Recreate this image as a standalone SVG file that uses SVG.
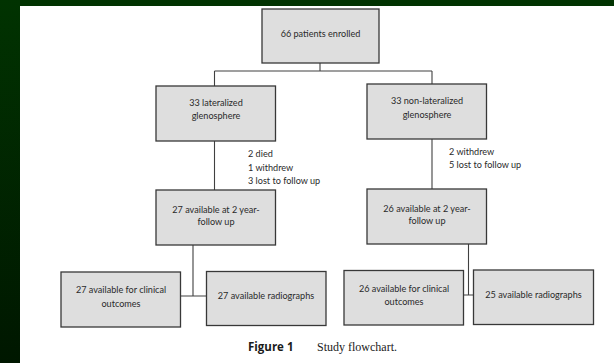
<svg xmlns="http://www.w3.org/2000/svg" width="614" height="363" viewBox="0 0 614 363">
  <defs>
    <linearGradient id="edge" x1="0" y1="0" x2="0" y2="1">
      <stop offset="0" stop-color="#013301"/>
      <stop offset="1" stop-color="#001700"/>
    </linearGradient>
    <style>
      .box { fill: #dedede; stroke: #383838; stroke-width: 1.3; }
      .lbl { font-family: Lato, "Open Sans", sans-serif; font-size: 9.1px; fill: #2a2a2a; text-anchor: middle; }
      .note { font-family: Lato, "Open Sans", sans-serif; font-size: 9.1px; fill: #2a2a2a; }
      .wire { fill: none; stroke: #404040; stroke-width: 1.1; }
    </style>
  </defs>

  <!-- slide backdrop and page -->
  <rect x="0" y="0" width="614" height="363" fill="#013301"/>
  <rect x="0" y="0" width="20" height="363" fill="url(#edge)"/>
  <rect x="20" y="6" width="594" height="357" fill="#ffffff"/>

  <!-- connectors -->
  <g id="connectors" class="wire">
    <path d="M320,63 V71 M214.5,71 H432 M214.5,71 V86 M432,71 V84"/>
    <path d="M214.5,141 V190"/>
    <path d="M432,139 V189"/>
    <path d="M193,245 V296 M180.5,296 H206.5"/>
    <path d="M468.5,244 V295 M463.5,295 H473.5"/>
  </g>

  <g id="enrolled">
    <rect class="box" x="262" y="9" width="117" height="54"/>
    <text class="lbl" x="320.5" y="36.5">66 patients enrolled</text>
  </g>

  <g id="lateralized">
    <rect class="box" x="156" y="86" width="119.5" height="55"/>
    <text class="lbl" x="216" y="106">33 lateralized</text>
    <text class="lbl" x="216" y="119">glenosphere</text>
  </g>

  <g id="non-lateralized">
    <rect class="box" x="367" y="84" width="119.5" height="55"/>
    <text class="lbl" x="427" y="103.5">33 non-lateralized</text>
    <text class="lbl" x="427" y="117.5">glenosphere</text>
  </g>

  <g id="lateralized-losses">
    <text class="note" x="248" y="157">2 died</text>
    <text class="note" x="248" y="170.5">1 withdrew</text>
    <text class="note" x="248" y="184">3 lost to follow up</text>
  </g>

  <g id="non-lateralized-losses">
    <text class="note" x="449" y="155">2 withdrew</text>
    <text class="note" x="449" y="168">5 lost to follow up</text>
  </g>

  <g id="lateralized-2yr">
    <rect class="box" x="156" y="190" width="119.5" height="55"/>
    <text class="lbl" x="216" y="212.5">27 available at 2 year-</text>
    <text class="lbl" x="216" y="225">follow up</text>
  </g>

  <g id="non-lateralized-2yr">
    <rect class="box" x="367" y="189" width="119.5" height="55"/>
    <text class="lbl" x="427" y="211.5">26 available at 2 year-</text>
    <text class="lbl" x="427" y="224">follow up</text>
  </g>

  <g id="lateralized-clinical">
    <rect class="box" x="61" y="272" width="119.5" height="55"/>
    <text class="lbl" x="121" y="293">27 available for clinical</text>
    <text class="lbl" x="121" y="306.5">outcomes</text>
  </g>

  <g id="lateralized-radiographs">
    <rect class="box" x="206.5" y="271.5" width="119.5" height="54"/>
    <text class="lbl" x="266" y="299">27 available radiographs</text>
  </g>

  <g id="non-lateralized-clinical">
    <rect class="box" x="344" y="270.5" width="119.5" height="54.5"/>
    <text class="lbl" x="404" y="291.5">26 available for clinical</text>
    <text class="lbl" x="404" y="305">outcomes</text>
  </g>

  <g id="non-lateralized-radiographs">
    <rect class="box" x="473.5" y="270" width="120" height="54.5"/>
    <text class="lbl" x="533.5" y="298">25 available radiographs</text>
  </g>

  <!-- caption -->
  <text x="248" y="350.5" font-family="'Open Sans', 'Liberation Sans', sans-serif" font-weight="bold" font-size="11.5" fill="#1a1a1a">Figure 1</text>
  <text x="317" y="350.5" font-family="'Liberation Serif', serif" font-size="12" fill="#1a1a1a">Study flowchart.</text>
</svg>
